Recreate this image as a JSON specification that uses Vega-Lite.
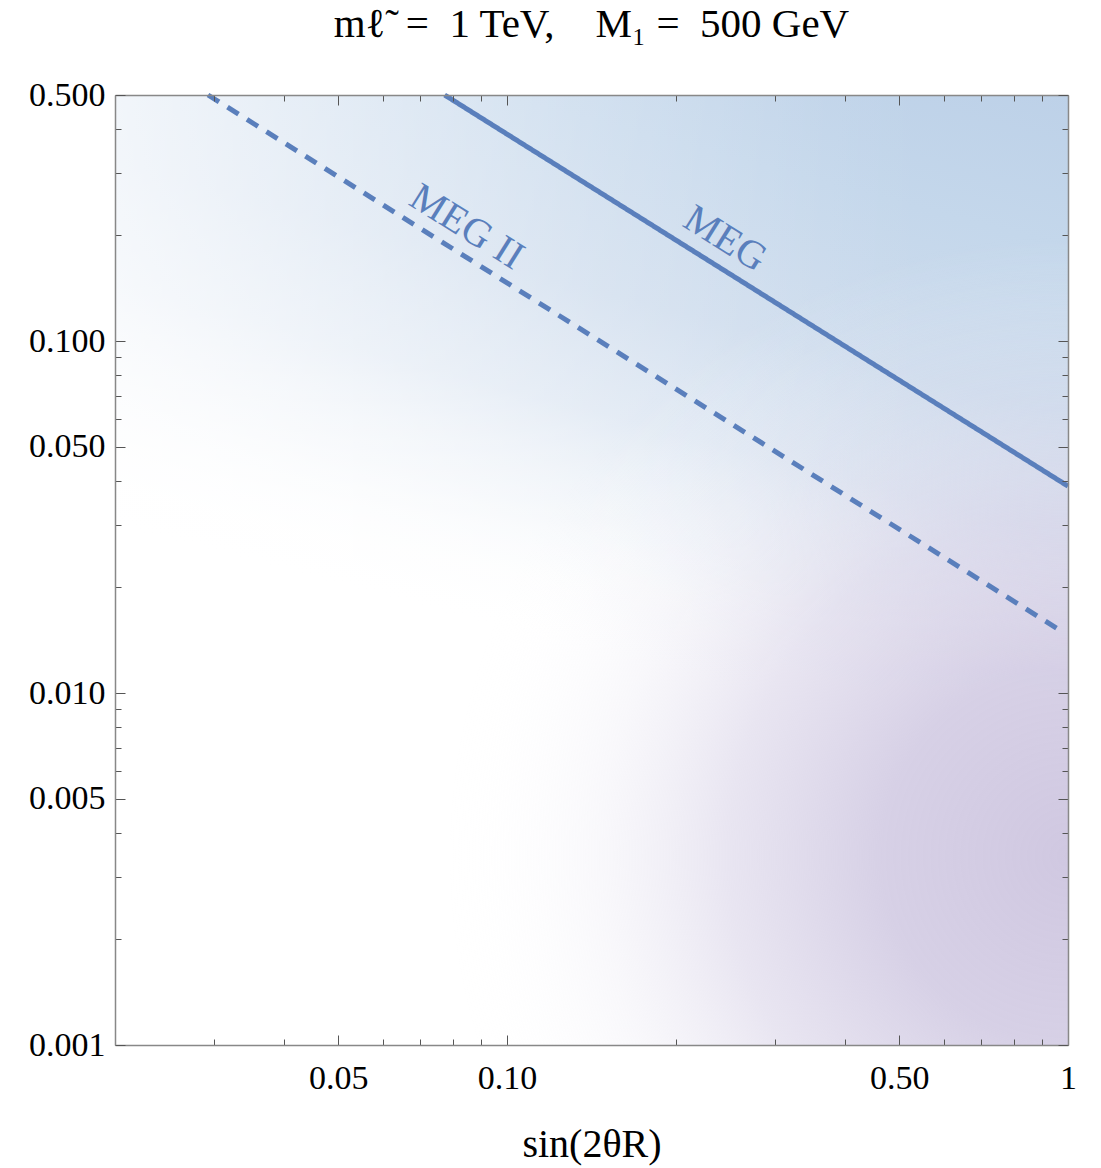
{
  "$schema": "https://vega.github.io/schema/vega-lite/v6.json",
  "width": 953,
  "height": 950,
  "autosize": "none",
  "padding": {"left": 115, "top": 95, "right": 33, "bottom": 123},
  "config": {
    "view": {"stroke": null},
    "font": "Liberation Serif",
    "title": {"font": "Liberation Serif", "fontWeight": "normal", "fontSize": 41, "color": "black"}
  },
  "title": {
    "text": "mℓ̃\u2002=\u20021 TeV,\u2003M₁ =\u2002500 GeV",
    "font": "Liberation Serif",
    "fontSize": 41,
    "fontWeight": "normal",
    "color": "black",
    "anchor": "middle",
    "frame": "group",
    "baseline": "alphabetic",
    "offset": 0
  },
  "datasets": {
    "frame": [{"x": 0.02, "x2": 1, "y": 0.001, "y2": 0.5}],
    "limits": [
      {"x": 0.0774, "y": 0.5, "limit": "MEG"},
      {"x": 1, "y": 0.0387, "limit": "MEG"},
      {"x": 0.0293, "y": 0.5, "limit": "MEG II"},
      {"x": 0.966, "y": 0.0151, "limit": "MEG II"}
    ],
    "labels": [
      {"x": 0.2447, "y": 0.195, "text": "MEG"},
      {"x": 0.0847, "y": 0.2108, "text": "MEG II"}
    ]
  },
  "layer": [
    {
      "data": {"name": "frame"},
      "mark": {
        "type": "rect",
        "fill": {
          "gradient": "linear",
          "x1": 1, "y1": 0, "x2": 0.8, "y2": 0.75,
          "stops": [
            {"offset": 0, "color": "#bdd1e8"},
            {"offset": 0.2, "color": "#c4d7eb"},
            {"offset": 0.42, "color": "rgba(203,218,236,0.95)"},
            {"offset": 0.58, "color": "rgba(212,224,239,0.8)"},
            {"offset": 0.72, "color": "rgba(225,233,243,0.45)"},
            {"offset": 0.9, "color": "rgba(255,255,255,0)"}
          ]
        }
      },
      "encoding": {
        "x": {
          "field": "x", "type": "quantitative",
          "scale": {"type": "log", "domain": [0.02, 1], "nice": false},
          "axis": {
            "orient": "bottom",
            "values": [0.02, 0.03, 0.04, 0.05, 0.06, 0.07, 0.08, 0.09, 0.1, 0.2, 0.3, 0.4, 0.5, 0.6, 0.7, 0.8, 0.9, 1],
            "tickSize": {"condition": {"test": "indexof([0.05,0.1,0.5,1], datum.value) >= 0", "value": -10}, "value": -6},
            "tickColor": "#555", "tickWidth": 1,
            "labelExpr": "indexof([0.05,0.1,0.5,1], datum.value) >= 0 ? (datum.value == 1 ? '1' : format(datum.value, '.2f')) : ''",
            "labelFont": "Liberation Serif", "labelFontSize": 34, "labelColor": "black",
            "labelPadding": 26, "labelFlush": false, "labelOverlap": false, "labelBound": false,
            "domain": true, "domainColor": "#888", "domainWidth": 1.5, "grid": false,
            "title": "sin(2θR)", "titleFont": "Liberation Serif", "titleFontSize": 40,
            "titleFontWeight": "normal", "titleColor": "black", "titlePadding": 57,
            "titleBaseline": "alphabetic", "zindex": 1
          }
        },
        "x2": {"field": "x2"},
        "y": {
          "field": "y", "type": "quantitative",
          "scale": {"type": "log", "domain": [0.001, 0.5], "nice": false},
          "axis": {
            "orient": "left",
            "values": [0.001, 0.002, 0.003, 0.004, 0.005, 0.006, 0.007, 0.008, 0.009, 0.01, 0.02, 0.03, 0.04, 0.05, 0.06, 0.07, 0.08, 0.09, 0.1, 0.2, 0.3, 0.4, 0.5],
            "tickSize": {"condition": {"test": "indexof([0.001,0.005,0.01,0.05,0.1,0.5], datum.value) >= 0", "value": -10}, "value": -6},
            "tickColor": "#555", "tickWidth": 1,
            "labelExpr": "indexof([0.001,0.005,0.01,0.05,0.1,0.5], datum.value) >= 0 ? format(datum.value, '.3f') : ''",
            "labelFont": "Liberation Serif", "labelFontSize": 34, "labelColor": "black",
            "labelPadding": 20, "labelFlush": false, "labelOverlap": false, "labelBound": false,
            "domain": true, "domainColor": "#888", "domainWidth": 1.5, "grid": false,
            "title": null, "zindex": 1
          }
        },
        "y2": {"field": "y2"}
      }
    },
    {
      "data": {"name": "frame"},
      "mark": {
        "type": "rect",
        "fill": {
          "gradient": "linear",
          "x1": 0, "y1": 0, "x2": 1, "y2": 0,
          "stops": [
            {"offset": 0, "color": "rgba(255,255,255,0.75)"},
            {"offset": 0.2, "color": "rgba(255,255,255,0.55)"},
            {"offset": 0.5, "color": "rgba(255,255,255,0.25)"},
            {"offset": 0.75, "color": "rgba(255,255,255,0.05)"},
            {"offset": 0.85, "color": "rgba(255,255,255,0)"}
          ]
        }
      },
      "encoding": {
        "x": {"field": "x", "type": "quantitative", "axis": null},
        "x2": {"field": "x2"},
        "y": {"field": "y", "type": "quantitative", "axis": null},
        "y2": {"field": "y2"}
      }
    },
    {
      "data": {"name": "frame"},
      "mark": {
        "type": "rect",
        "fill": {
          "gradient": "radial",
          "x1": 1, "y1": 0.8, "r1": 0, "x2": 1, "y2": 0.8, "r2": 0.65,
          "stops": [
            {"offset": 0, "color": "rgba(208,200,225,1)"},
            {"offset": 0.3, "color": "rgba(210,203,227,0.9)"},
            {"offset": 0.55, "color": "rgba(214,208,230,0.55)"},
            {"offset": 0.75, "color": "rgba(225,222,237,0.22)"},
            {"offset": 1, "color": "rgba(255,255,255,0)"}
          ]
        }
      },
      "encoding": {
        "x": {
          "field": "x", "type": "quantitative",
          "axis": {
            "orient": "top",
            "values": [0.02, 0.03, 0.04, 0.05, 0.06, 0.07, 0.08, 0.09, 0.1, 0.2, 0.3, 0.4, 0.5, 0.6, 0.7, 0.8, 0.9, 1],
            "tickSize": {"condition": {"test": "indexof([0.05,0.1,0.5,1], datum.value) >= 0", "value": -10}, "value": -6},
            "tickColor": "#555", "tickWidth": 1, "labels": false,
            "domain": true, "domainColor": "#888", "domainWidth": 1.5, "grid": false,
            "title": null, "zindex": 1
          }
        },
        "x2": {"field": "x2"},
        "y": {
          "field": "y", "type": "quantitative",
          "axis": {
            "orient": "right",
            "values": [0.001, 0.002, 0.003, 0.004, 0.005, 0.006, 0.007, 0.008, 0.009, 0.01, 0.02, 0.03, 0.04, 0.05, 0.06, 0.07, 0.08, 0.09, 0.1, 0.2, 0.3, 0.4, 0.5],
            "tickSize": {"condition": {"test": "indexof([0.001,0.005,0.01,0.05,0.1,0.5], datum.value) >= 0", "value": -10}, "value": -6},
            "tickColor": "#555", "tickWidth": 1, "labels": false,
            "domain": true, "domainColor": "#888", "domainWidth": 1.5, "grid": false,
            "title": null, "zindex": 1
          }
        },
        "y2": {"field": "y2"}
      }
    },
    {
      "data": {"name": "limits"},
      "mark": {"type": "line", "color": "#5a7fbc", "strokeWidth": 5, "strokeCap": "butt"},
      "encoding": {
        "x": {"field": "x", "type": "quantitative", "axis": null},
        "y": {"field": "y", "type": "quantitative", "axis": null},
        "detail": {"field": "limit", "type": "nominal"},
        "strokeDash": {
          "field": "limit", "type": "nominal",
          "scale": {"domain": ["MEG", "MEG II"], "range": [[1, 0], [13, 10]]},
          "legend": null
        }
      }
    },
    {
      "data": {"name": "labels"},
      "mark": {
        "type": "text", "angle": 32, "align": "center", "baseline": "middle",
        "font": "Liberation Serif", "fontSize": 40, "color": "#5a7fbc"
      },
      "encoding": {
        "x": {"field": "x", "type": "quantitative", "axis": null},
        "y": {"field": "y", "type": "quantitative", "axis": null},
        "text": {"field": "text", "type": "nominal"}
      }
    }
  ],
  "resolve": {"axis": {"x": "independent", "y": "independent"}}
}
